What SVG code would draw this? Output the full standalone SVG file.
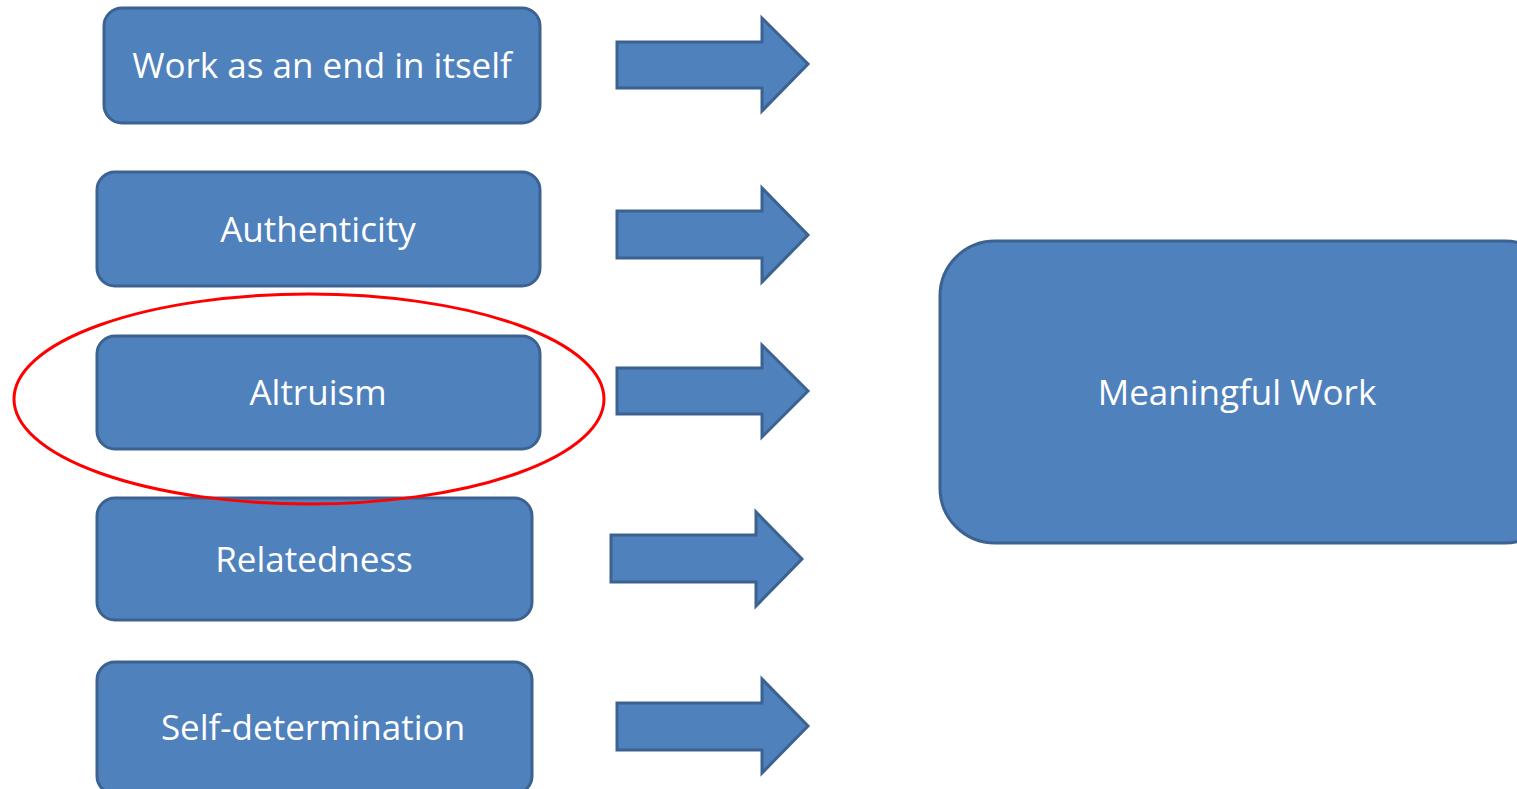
<svg xmlns="http://www.w3.org/2000/svg" width="1517" height="789" viewBox="0 0 1517 789">
  <style>
    .box { fill: #4f81bd; stroke: #3b6290; stroke-width: 3; }
    .arrow { fill: #4f81bd; stroke: #3b6290; stroke-width: 3; stroke-linejoin: miter; }
    .label { font-family: "Open Sans", "Liberation Sans", sans-serif; font-size: 35px; fill: #ffffff; text-anchor: middle; }
    .mark { fill: none; stroke: #ff0000; stroke-width: 3; }
  </style>
  <rect width="1517" height="789" fill="#ffffff"/>

  <g id="node-end-in-itself">
    <rect class="box" x="104" y="8" width="436" height="115" rx="18"/>
    <text class="label" x="322" y="78">Work as an end in itself</text>
  </g>
  <g id="node-authenticity">
    <rect class="box" x="97" y="172" width="443" height="114" rx="18"/>
    <text class="label" x="318" y="242">Authenticity</text>
  </g>
  <g id="node-altruism">
    <rect class="box" x="97" y="336" width="443" height="113" rx="18"/>
    <text class="label" x="318" y="405">Altruism</text>
  </g>
  <g id="node-relatedness">
    <rect class="box" x="97" y="498" width="435" height="122" rx="18"/>
    <text class="label" x="314" y="572">Relatedness</text>
  </g>
  <g id="node-self-determination">
    <rect class="box" x="97" y="662" width="435" height="132" rx="18"/>
    <text class="label" x="313" y="740">Self-determination</text>
  </g>
  <g id="node-meaningful-work">
    <rect class="box" x="940" y="241" width="620" height="302" rx="55"/>
    <text class="label" x="1237" y="405">Meaningful Work</text>
  </g>

  <g id="connectors">
    <polygon class="arrow" points="617,42 762,42 762,18 808,64 762,111 762,88 617,88"/>
    <polygon class="arrow" points="617,211 762,211 762,188 808,235 762,282 762,258 617,258"/>
    <polygon class="arrow" points="617,368 762,368 762,345 808,391 762,437 762,414 617,414"/>
    <polygon class="arrow" points="611,535 756,535 756,512 802,559 756,606 756,582 611,582"/>
    <polygon class="arrow" points="617,703 762,703 762,679 808,726 762,773 762,750 617,750"/>
  </g>

  <ellipse id="highlight" class="mark" cx="309" cy="399" rx="295" ry="105"/>
</svg>
